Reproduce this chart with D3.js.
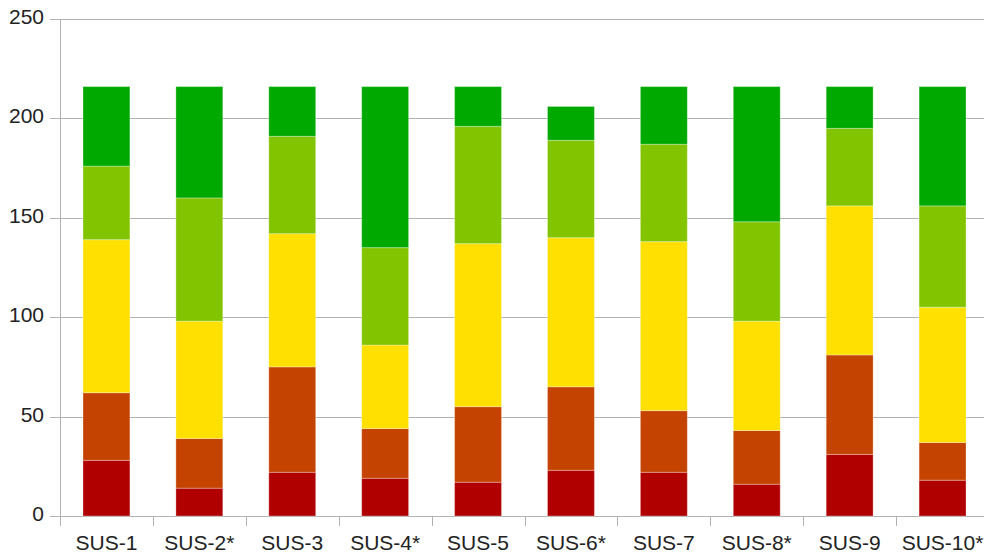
<!DOCTYPE html>
<html>
<head>
<meta charset="utf-8">
<script src="https://cdn.jsdelivr.net/npm/d3@7"></script>
<style>
  html, body { margin: 0; padding: 0; background: #fff; }
  svg { display: block; }
  text { font-family: "Liberation Sans", Arial, sans-serif; }
</style>
</head>
<body>
<svg id="chart" width="984" height="558"></svg>
<script>
const categories = ["SUS-1", "SUS-2*", "SUS-3", "SUS-4*", "SUS-5", "SUS-6*", "SUS-7", "SUS-8*", "SUS-9", "SUS-10*"];
const seriesNames = ["s1", "s2", "s3", "s4", "s5"];
const s1 = [28, 14, 22, 19, 17, 23, 22, 16, 31, 18];
const s2 = [34, 25, 53, 25, 38, 42, 31, 27, 50, 19];
const s3 = [77, 59, 67, 42, 82, 75, 85, 55, 75, 68];
const s4 = [37, 62, 49, 49, 59, 49, 49, 50, 39, 51];
const s5 = [40, 56, 25, 81, 20, 17, 29, 68, 21, 60];
const yTicks = [0, 50, 100, 150, 200, 250];
const colors = ["#b00000", "#c54300", "#ffe000", "#83c400", "#00a900"];

const svg = d3.select("#chart");
const plotLeft = 60, plotRight = 989, plotTop = 19, plotBottom = 516;

const x = d3.scaleBand().domain(categories).range([plotLeft, plotRight]).paddingInner(0).paddingOuter(0);
const y = d3.scaleLinear().domain([0, 250]).range([plotBottom, plotTop]);

const table = categories.map((c, i) => ({cat: c, s1: s1[i], s2: s2[i], s3: s3[i], s4: s4[i], s5: s5[i]}));
const stacked = d3.stack().keys(seriesNames)(table);

// gridlines
svg.append("g").selectAll("line").data(yTicks).join("line")
  .attr("x1", plotLeft - 10).attr("x2", 984)
  .attr("y1", d => Math.round(y(d)) + 0.5).attr("y2", d => Math.round(y(d)) + 0.5)
  .attr("stroke", "#b3b3b3").attr("stroke-width", 1);

// y axis line
svg.append("line").attr("x1", plotLeft + 0.5).attr("x2", plotLeft + 0.5)
  .attr("y1", plotTop).attr("y2", plotBottom + 10)
  .attr("stroke", "#b3b3b3");

// x tick marks
const xTickPos = categories.slice(1).map(c => x(c));
svg.append("g").selectAll("line").data(xTickPos).join("line")
  .attr("x1", d => Math.round(d) + 0.5).attr("x2", d => Math.round(d) + 0.5)
  .attr("y1", plotBottom).attr("y2", plotBottom + 10)
  .attr("stroke", "#b3b3b3");

// bars
const barW = x.bandwidth() * 0.505;
svg.append("g").selectAll("g").data(stacked).join("g")
  .attr("fill", (d, i) => colors[i])
  .selectAll("rect").data(d => d).join("rect")
  .attr("x", d => x(d.data.cat) + (x.bandwidth() - barW) / 2)
  .attr("width", barW)
  .attr("y", d => y(d[1]))
  .attr("height", d => y(d[0]) - y(d[1]))
  .attr("stroke", "rgba(255,255,255,0.3)")
  .attr("stroke-width", 1);

// y labels
svg.append("g").selectAll("text").data(yTicks).join("text")
  .attr("x", 44).attr("y", d => y(d) + 5)
  .attr("text-anchor", "end")
  .attr("font-size", "21px").attr("fill", "#222")
  .text(d => d);

// x labels
svg.append("g").selectAll("text").data(categories).join("text")
  .attr("x", d => x(d) + x.bandwidth() / 2).attr("y", 550)
  .attr("text-anchor", "middle")
  .attr("font-size", "21px").attr("fill", "#222")
  .text(d => d);
</script>
</body>
</html>
